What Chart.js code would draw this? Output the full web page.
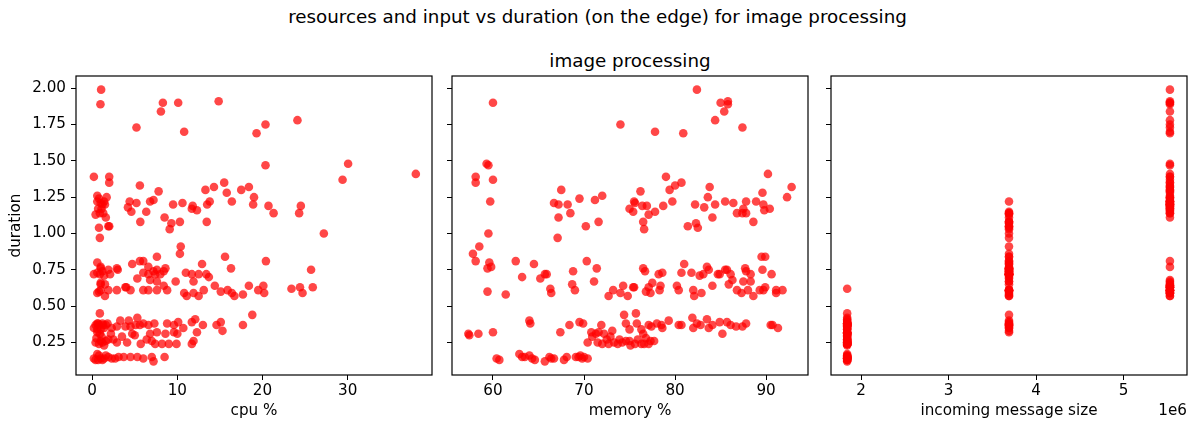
<!DOCTYPE html>
<html>
<head>
<meta charset="utf-8">
<script src="https://cdn.jsdelivr.net/npm/chart.js@4.4.1/dist/chart.umd.min.js"></script>
<style>
    body { margin: 0; background: #fff; font-family: 'DejaVu Sans', sans-serif; }
    #wrap { position: relative; width: 1195px; height: 423px; overflow: hidden; }
    .title { position: absolute; text-align: center; font-size: 18.3px; color: #000; white-space: nowrap; line-height: 22px; }
    canvas { position: absolute; top: 0; }
</style>
</head>
<body>
<div id="wrap">
    <div class="title" id="figTitle" style="left:0; width:1195px; top:6px;"></div>
    <div class="title" id="axTitle" style="left:452px; width:356px; top:50px;"></div>
    <canvas id="cpuChart" width="445" height="423" style="left:0"></canvas>
    <canvas id="memoryChart" width="370" height="423" style="left:445px"></canvas>
    <canvas id="sizeChart" width="380" height="423" style="left:815px"></canvas>
</div>
<script>
// Texts
const figureTitle = 'resources and input vs duration (on the edge) for image processing';
const panelTitle = 'image processing';

// One entry per run, same order in every array
// bands: >1.6 | 1.3-1.5 | 0.9-1.3 | 0.65-0.86 | ~0.6 | 0.31-0.45 | ~0.25 | ~0.15
const duration = [
    1.99, 1.89, 1.90, 1.84, 1.90, 1.91, 1.73, 1.70, 1.75, 1.69, 1.78,
    1.48, 1.47, 1.41, 1.39, 1.39, 1.37, 1.35, 1.35, 1.33, 1.32, 1.32, 1.30, 1.30,
    0.91, 0.97, 1.00, 1.03, 1.04, 1.05, 1.05, 1.07, 1.08, 1.08, 1.08, 1.11, 1.11, 1.13, 1.14, 1.14, 1.14, 1.14, 1.15, 1.15,
    1.16, 1.17, 1.17, 1.17, 1.18, 1.19, 1.19, 1.19, 1.20, 1.20, 1.20, 1.20, 1.20, 1.21, 1.21, 1.21, 1.22, 1.22, 1.22, 1.22,
    1.22, 1.22, 1.23, 1.24, 1.25, 1.25, 1.26, 1.28, 1.29,
    0.65, 0.65, 0.67, 0.67, 0.67, 0.68, 0.69, 0.70, 0.71, 0.72, 0.72, 0.72, 0.72, 0.72, 0.72, 0.72, 0.72, 0.72, 0.73, 0.73,
    0.73, 0.74, 0.74, 0.74, 0.75, 0.75, 0.75, 0.75, 0.76, 0.76, 0.76, 0.76, 0.77, 0.77, 0.79, 0.79, 0.80, 0.81, 0.81, 0.81,
    0.84, 0.84, 0.86,
    0.57, 0.57, 0.57, 0.57, 0.58, 0.59, 0.59, 0.59, 0.59, 0.59, 0.59, 0.60, 0.60, 0.61, 0.61, 0.61, 0.61, 0.61, 0.61, 0.61,
    0.61, 0.61, 0.61, 0.61, 0.62, 0.63, 0.63, 0.63, 0.63, 0.64, 0.64, 0.64, 0.64, 0.66,
    0.31, 0.31, 0.32, 0.32, 0.33, 0.34, 0.34, 0.35, 0.35, 0.35, 0.35, 0.36, 0.36, 0.36, 0.37, 0.37, 0.37, 0.37, 0.37, 0.37,
    0.37, 0.37, 0.37, 0.37, 0.37, 0.38, 0.38, 0.38, 0.38, 0.38, 0.38, 0.38, 0.39, 0.39, 0.39, 0.40, 0.40, 0.41, 0.42, 0.44, 0.45,
    0.23, 0.24, 0.24, 0.24, 0.24, 0.24, 0.24, 0.24, 0.25, 0.25, 0.25, 0.25, 0.26, 0.26, 0.26, 0.26, 0.27, 0.27, 0.27, 0.28,
    0.29, 0.29, 0.30, 0.31, 0.31, 0.31, 0.31, 0.32, 0.32,
    0.12, 0.13, 0.13, 0.13, 0.14, 0.14, 0.14, 0.14, 0.14, 0.14, 0.15, 0.15, 0.15, 0.15, 0.15, 0.15, 0.16, 0.16, 0.17, 0.15
];

const cpuPercent = [
    1.05, 0.97, 8.3, 8.07, 10.1, 14.85, 5.2, 10.8, 20.35, 19.3, 24.1,
    30.05, 20.35, 38.0, 0.2, 2.0, 29.4, 2.0, 15.5, 5.6, 14.3, 18.4, 13.3, 17.5,
    10.4, 0.9, 27.2, 9.1, 0.8, 1.9, 2.0, 9.3, 5.65, 10.3, 13.45, 8.5, 1.6, 0.4, 1.3, 21.3, 24.3, 0.9, 4.6, 6.35,
    12.3, 1.1, 11.7, 0.7, 4.2, 11.8, 20.7, 24.5, 9.5, 18.9, 1.2, 1.5, 13.5, 1.0, 5.2, 10.6, 13.8, 16.4, 4.4, 6.8,
    0.6, 1.4, 7.2, 0.8, 19.0, 1.7, 0.6, 15.8, 7.8,
    1.0, 1.5, 11.9, 9.8, 7.6, 6.8, 5.3, 13.7, 1.4, 8.0, 0.2, 2.1, 6.6, 7.4, 13.4, 11.7, 12.5, 0.9, 0.6, 6.0,
    11.0, 7.2, 8.4, 1.2, 7.6, 25.7, 1.9, 3.0, 1.0, 2.9, 8.6, 16.3, 6.6, 1.0, 4.7, 12.9, 0.6, 20.4, 5.6, 6.0,
    7.6, 15.6, 10.3,
    1.5, 11.1, 12.5, 16.7, 17.7, 24.7, 0.6, 11.9, 16.4, 20.2, 10.8, 15.1, 0.8, 1.0, 1.9, 2.9, 4.5, 6.0, 6.6, 7.6,
    8.8, 13.1, 15.9, 19.5, 23.4, 24.4, 25.9, 4.0, 3.9, 14.4, 18.4, 8.4, 20.1, 1.0,
    10.0, 4.7, 12.3, 7.6, 15.3, 0.6, 1.0, 0.2, 1.4, 2.3, 10.7, 2.9, 4.5, 3.9, 9.6, 17.7, 14.6, 1.6, 13.0, 1.3,
    0.8, 0.4, 5.1, 5.6, 6.6, 0.7, 1.2, 1.8, 7.3, 6.0, 8.8, 0.6, 10.1, 11.7, 15.1, 3.3, 4.3, 12.1, 5.3, 18.8, 0.9,
    1.4, 5.7, 7.4, 8.2, 9.0, 9.9, 11.7, 0.8, 0.4, 2.9, 4.1, 1.2, 1.0, 7.0, 11.9, 1.6, 1.9, 6.4, 2.5, 0.5,
    1.1, 3.5, 5.0, 6.8, 0.9, 2.2, 8.6, 0.6, 9.6,
    7.2, 0.4, 1.2, 0.7, 1.0, 2.3, 0.2, 1.4, 2.7, 6.0, 3.1, 3.7, 4.5, 5.3, 7.0, 1.9, 0.8, 1.6, 0.6, 8.5
];

const memoryPercent = [
    82.4, 85.8, 85.0, 85.4, 60.0, 85.8, 87.4, 77.8, 74.0, 80.9, 84.4,
    59.3, 59.5, 90.2, 58.1, 79.0, 60.0, 58.1, 80.7, 80.0, 92.8, 83.8, 79.4, 67.5,
    58.5, 67.1, 59.5, 76.6, 82.5, 70.2, 81.4, 82.3, 71.6, 76.5, 88.6, 67.2, 84.1, 77.1, 68.5, 86.8, 87.4, 87.8, 75.4, 77.8,
    89.8, 75.0, 87.5, 90.4, 83.2, 76.4, 76.9, 78.7, 67.2, 68.2, 82.2, 84.4, 89.7, 66.7, 75.6, 86.4, 59.7, 75.5, 79.7, 85.5,
    87.8, 88.9, 71.2, 69.5, 83.6, 92.3, 72.0, 89.6, 76.2,
    68.7, 85.9, 71.1, 88.3, 87.5, 86.3, 65.2, 63.2, 82.7, 65.7, 65.9, 78.2, 83.1, 84.7, 84.9, 86.1, 88.3, 90.6, 78.6, 80.7,
    81.8, 68.8, 76.7, 87.8, 83.7, 85.5, 85.7, 89.6, 59.4, 71.4, 76.5, 87.7, 59.8, 83.5, 64.5, 81.0, 59.6, 58.1, 62.5, 70.3,
    89.5, 89.9, 57.8,
    72.7, 74.8, 82.1, 88.6, 61.4, 66.4, 74.0, 77.3, 82.9, 87.3, 91.1, 76.8, 59.4, 69.0, 73.2, 78.3, 80.4, 82.0, 86.8, 88.0,
    89.3, 89.7, 91.1, 91.8, 66.3, 75.4, 75.5, 77.1, 89.9, 74.3, 78.4, 80.2, 84.1, 77.5,
    76.5, 85.2, 67.4, 70.8, 73.1, 75.0, 76.3, 78.6, 82.0, 83.7, 91.3, 77.4, 86.7, 87.4, 68.4, 71.9, 77.1, 78.5, 80.4, 80.7,
    82.8, 84.1, 86.1, 90.5, 90.7, 64.1, 69.9, 74.6, 75.8, 78.0, 82.4, 87.8, 69.5, 84.9, 85.7, 64.0, 79.3, 83.5, 81.9, 74.4, 75.7,
    75.1, 72.0, 72.7, 73.7, 75.6, 76.3, 76.6, 77.1, 70.4, 71.5, 73.3, 74.2, 74.6, 75.0, 77.3, 77.7, 72.5, 73.9, 75.9, 76.8,
    70.9, 72.9, 57.4, 57.3, 58.4, 71.3, 72.2, 60.0, 71.6,
    65.7, 60.7, 64.6, 67.8, 60.4, 64.3, 66.4, 66.7, 69.8, 70.4, 63.2, 63.5, 66.2, 68.1, 69.1, 70.0, 64.0, 69.6, 62.9, 69.4
];

// incoming message size, in units of 1e6
const messageSize = [
    5.53, 5.53, 5.53, 5.53, 5.53, 5.53, 5.53, 5.53, 5.53, 5.53, 5.53,
    5.53, 5.53, 5.53, 5.53, 5.53, 5.53, 5.53, 5.53, 5.53, 5.53, 5.53, 5.53, 5.53,
    3.69, 3.69, 3.69, 3.69, 3.69, 3.69, 3.69, 3.69, 3.69, 3.69, 3.69, 3.69, 5.53, 3.69, 3.69, 5.53, 3.69, 5.53, 3.69, 5.53,
    5.53, 5.53, 5.53, 5.53, 5.53, 5.53, 5.53, 5.53, 5.53, 5.53, 5.53, 5.53, 5.53, 5.53, 5.53, 5.53, 3.69, 5.53, 5.53, 5.53,
    5.53, 5.53, 5.53, 5.53, 5.53, 5.53, 5.53, 5.53, 5.53,
    3.69, 5.53, 3.69, 5.53, 3.69, 5.53, 3.69, 3.69, 3.69, 3.69, 3.69, 3.69, 3.69, 3.69, 3.69, 3.69, 3.69, 3.69, 3.69, 3.69,
    3.69, 3.69, 3.69, 3.69, 3.69, 3.69, 3.69, 3.69, 3.69, 3.69, 3.69, 3.69, 5.53, 3.69, 3.69, 3.69, 3.69, 3.69, 5.53, 3.69,
    3.69, 3.69, 3.69,
    3.69, 5.53, 3.69, 5.53, 3.69, 5.53, 5.53, 3.69, 5.53, 5.53, 5.53, 3.69, 5.53, 3.69, 5.53, 3.69, 5.53, 3.69, 5.53, 3.69,
    5.53, 3.69, 5.53, 5.53, 1.84, 5.53, 5.53, 5.53, 5.53, 5.53, 5.53, 5.53, 5.53, 5.53,
    1.84, 1.84, 3.69, 1.84, 3.69, 1.84, 1.84, 3.69, 1.84, 1.84, 3.69, 1.84, 3.69, 1.84, 1.84, 3.69, 1.84, 1.84, 3.69, 1.84,
    1.84, 3.69, 1.84, 1.84, 3.69, 1.84, 1.84, 3.69, 1.84, 1.84, 3.69, 1.84, 1.84, 3.69, 1.84, 1.84, 3.69, 1.84, 1.84, 3.69, 1.84,
    1.84, 1.84, 1.84, 1.84, 1.84, 1.84, 1.84, 1.84, 1.84, 1.84, 1.84, 1.84, 1.84, 1.84, 1.84, 1.84, 1.84, 1.84, 1.84, 1.84,
    1.84, 1.84, 1.84, 1.84, 1.84, 1.84, 1.84, 1.84, 1.84,
    1.84, 1.84, 1.84, 1.84, 1.84, 1.84, 1.84, 1.84, 1.84, 1.84, 1.84, 1.84, 1.84, 1.84, 1.84, 1.84, 1.84, 1.84, 1.84, 1.84
];

// Tick values and labels
const durationTicks = [0.25, 0.5, 0.75, 1.0, 1.25, 1.5, 1.75, 2.0];
const durationTickLabels = ['0.25', '0.50', '0.75', '1.00', '1.25', '1.50', '1.75', '2.00'];
const cpuTicks = [0, 10, 20, 30];
const cpuTickLabels = ['0', '10', '20', '30'];
const memoryTicks = [60, 70, 80, 90];
const memoryTickLabels = ['60', '70', '80', '90'];
const sizeTicks = [2, 3, 4, 5];
const sizeTickLabels = ['2', '3', '4', '5'];
const sizeOffsetLabel = '1e6';

document.getElementById('figTitle').textContent = figureTitle;
document.getElementById('axTitle').textContent = panelTitle;

const FONT = 'DejaVu Sans';
const tickFont = { family: FONT, size: 15.2 };
const pointColor = 'rgba(255, 0, 0, 0.72)';

// box around the plot area, like matplotlib spines
const frame = {
    id: 'frame',
    afterDraw(chart) {
        const a = chart.chartArea;
        const ctx = chart.ctx;
        ctx.save();
        ctx.strokeStyle = '#000';
        ctx.lineWidth = 1.2;
        ctx.strokeRect(a.left, a.top, a.right - a.left, a.bottom - a.top);
        ctx.restore();
    }
};

function xScale(min, max, ticks, labels, title) {
    return {
        type: 'linear', min: min, max: max,
        afterBuildTicks: s => { s.ticks = ticks.map(v => ({ value: v })); },
        afterFit: s => { s.height = 48; },
        ticks: { font: tickFont, color: '#000', padding: 2, maxRotation: 0, autoSkip: false,
                 callback: (v, i) => labels[i] },
        grid: { drawOnChartArea: false, drawTicks: true, tickLength: 5, color: '#000', lineWidth: 1 },
        border: { display: false },
        title: { display: true, text: title, font: tickFont, color: '#000', padding: { top: 0, bottom: 3 } }
    };
}

function yScale(width, showLabels) {
    return {
        type: 'linear', min: 0.026, max: 2.084,
        afterBuildTicks: s => { s.ticks = durationTicks.map(v => ({ value: v })); },
        afterFit: s => { s.width = width; },
        ticks: { display: showLabels, font: tickFont, color: '#000', padding: 5, autoSkip: false,
                 callback: (v, i) => durationTickLabels[i] },
        grid: { drawOnChartArea: false, drawTicks: true, tickLength: 5, color: '#000', lineWidth: 1 },
        border: { display: false },
        title: { display: showLabels, text: 'duration', font: tickFont, color: '#000', padding: { top: 7, bottom: 0 } }
    };
}

function makePanel(id, xs, x, y, rightPad, extraPlugins) {
    const ctx = document.getElementById(id).getContext('2d');
    return new Chart(ctx, {
        type: 'scatter',
        data: {
            datasets: [{
                data: duration.map((d, i) => ({ x: xs[i], y: d })),
                backgroundColor: pointColor,
                borderWidth: 0,
                pointRadius: 4.3,
                pointHoverRadius: 4.3
            }]
        },
        options: {
            responsive: false,
            animation: false,
            layout: { padding: { top: 76, right: rightPad, bottom: 0, left: 0 } },
            plugins: { legend: { display: false }, tooltip: { enabled: false } },
            scales: { x: x, y: y }
        },
        plugins: [frame].concat(extraPlugins || [])
    });
}

makePanel('cpuChart', cpuPercent,
    xScale(-1.9, 39.9, cpuTicks, cpuTickLabels, 'cpu %'),
    yScale(76, true), 13);

makePanel('memoryChart', memoryPercent,
    xScale(55.5, 94.6, memoryTicks, memoryTickLabels, 'memory %'),
    yScale(7, false), 7);

const offsetText = {
    id: 'offsetText',
    afterDraw(chart) {
        const ctx = chart.ctx;
        ctx.save();
        ctx.font = '15.2px "' + FONT + '"';
        ctx.fillStyle = '#000';
        ctx.textAlign = 'right';
        ctx.textBaseline = 'middle';
        ctx.fillText(sizeOffsetLabel, chart.chartArea.right, 411);
        ctx.restore();
    }
};

makePanel('sizeChart', messageSize,
    xScale(1.655, 5.725, sizeTicks, sizeTickLabels, 'incoming message size'),
    yScale(16, false), 8, [offsetText]);
</script>
</body>
</html>
